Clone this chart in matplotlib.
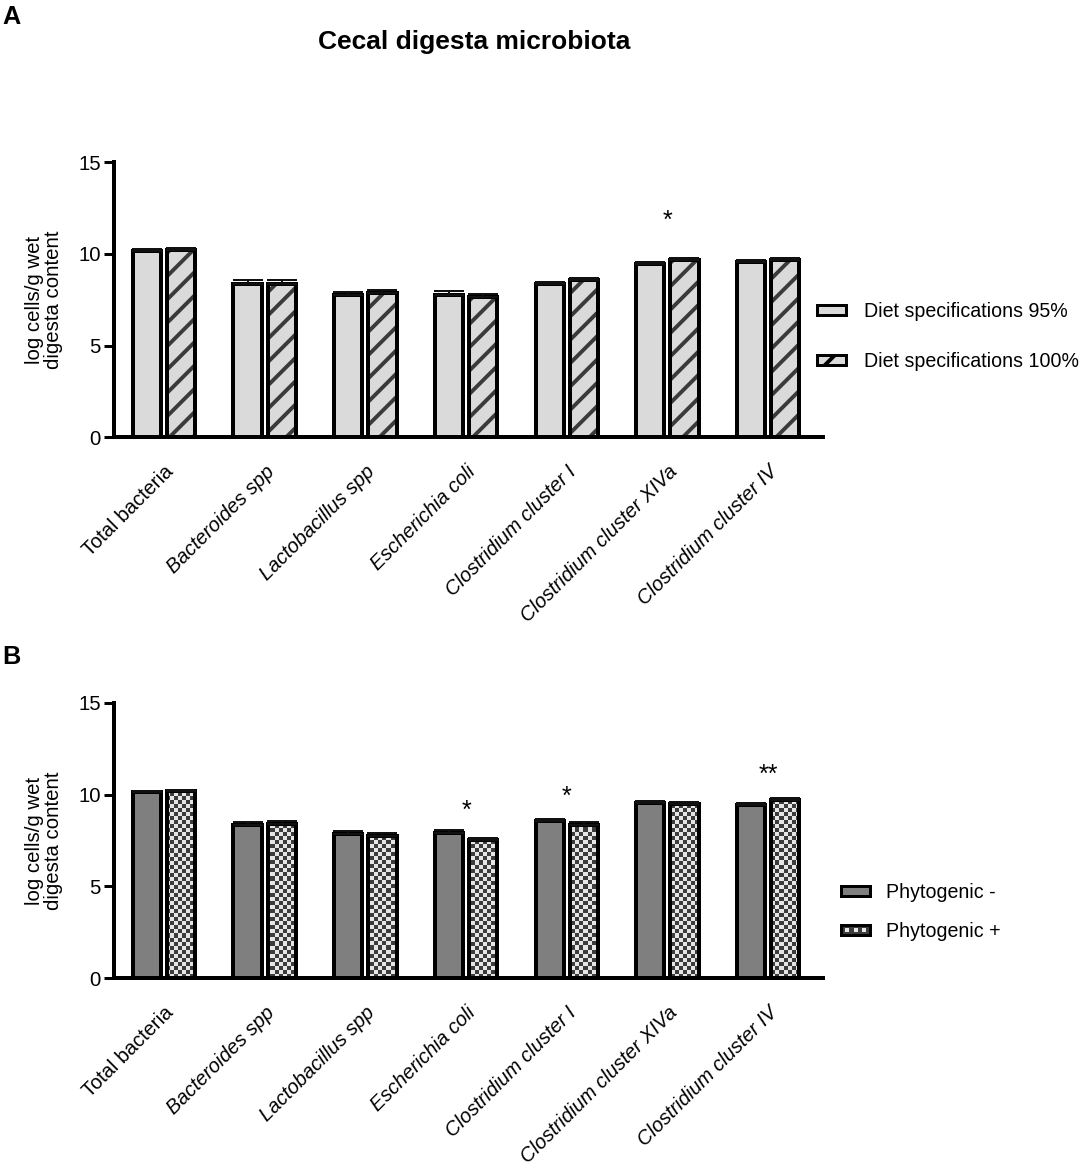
import numpy as np
import matplotlib
matplotlib.use('Agg')
import matplotlib.pyplot as plt
from matplotlib.patches import Patch, Rectangle

plt.rcParams['font.family'] = ['Liberation Sans', 'DejaVu Sans']
plt.rcParams['hatch.linewidth'] = 2.0

DPI = 140
PT = 72.0 / DPI   # one pixel in points

cats = ['Total bacteria', 'Bacteroides spp', 'Lactobacillus spp', 'Escherichia coli',
        'Clostridium cluster I', 'Clostridium cluster XIVa', 'Clostridium cluster IV']
italic = [False, True, True, True, True, True, True]

# panel A : diet specifications
diet95 = [10.15, 8.38, 7.78, 7.78, 8.38, 9.47, 9.56]
diet95_se = [0.10, 0.22, 0.16, 0.18, 0.10, 0.09, 0.10]
diet100 = [10.24, 8.38, 7.87, 7.64, 8.57, 9.66, 9.66]
diet100_se = [0.10, 0.20, 0.16, 0.18, 0.10, 0.10, 0.10]
sig_a_idx = [5]
sig_a_txt = ['*']
sig_a_y = [11.8]

# panel B : phytogenic
phyto_neg = [10.13, 8.33, 7.84, 7.89, 8.55, 9.53, 9.42]
phyto_neg_se = [0.08, 0.16, 0.16, 0.17, 0.10, 0.10, 0.10]
phyto_pos = [10.19, 8.42, 7.75, 7.51, 8.35, 9.48, 9.69]
phyto_pos_se = [0.08, 0.16, 0.14, 0.15, 0.14, 0.10, 0.15]
sig_b_idx = [3, 4, 6]
sig_b_txt = ['*', '*', '**']
sig_b_y = [9.1, 9.9, 11.1]

LIGHT = '#dadada'
DARK = '#7f7f7f'
STRIPE = '#3a3a3a'
CHK_D = '#3c3c3c'
CHK_L = '#e6e6e6'

W = 0.28
OFF = 0.17
EDGE = 4 * PT
XLIM = (-0.5, 6.55)
FS = 10.5
LFS = 10.1

fig = plt.figure(figsize=(1084 / DPI, 1165 / DPI), dpi=DPI)
fig.patch.set_facecolor('white')

axA = fig.add_axes([113.7 / 1084, 1 - 437.3 / 1165, 7.05 * 100.67 / 1084, 275 / 1165])
axB = fig.add_axes([113.7 / 1084, 1 - 978 / 1165, 7.05 * 100.67 / 1084, 275 / 1165])

x = np.arange(len(cats))


def style_axes(ax):
    ax.set_xlim(*XLIM)
    ax.set_ylim(0, 15)
    ax.set_yticks([0, 5, 10, 15])
    for s in ['top', 'right']:
        ax.spines[s].set_visible(False)
    for s in ['left', 'bottom']:
        ax.spines[s].set_linewidth(EDGE)
    ax.tick_params(axis='y', length=10 * PT, width=3 * PT, pad=3 * PT, labelsize=FS)
    ax.tick_params(axis='x', length=0, pad=25 * PT)
    ax.set_xticks(x)
    ax.set_xticklabels(cats, rotation=45, ha='right', va='top', rotation_mode='anchor', fontsize=10.3)
    for lab, it in zip(ax.get_xticklabels(), italic):
        if it:
            lab.set_style('italic')
    ax.set_ylabel('log cells/g wet\ndigesta content', fontsize=FS, linespacing=1.05)
    ax.yaxis.set_label_coords(-50 / 705, 0.5)


def errs(ax, xs, vals, se):
    ax.errorbar(xs, vals, yerr=[np.zeros(len(vals)), se], fmt='none', ecolor='#111111',
                elinewidth=2 * PT, capsize=15 * PT, capthick=2 * PT, zorder=4)


# ---- panel A ----
style_axes(axA)
axA.bar(x - OFF, diet95, W, color=LIGHT, edgecolor='black', linewidth=EDGE, zorder=2)
axA.bar(x + OFF, diet100, W, color=LIGHT, hatch='//', edgecolor=STRIPE, linewidth=0, zorder=2)
axA.bar(x + OFF, diet100, W, fill=False, edgecolor='black', linewidth=EDGE, zorder=3)
errs(axA, x - OFF, diet95, diet95_se)
errs(axA, x + OFF, diet100, diet100_se)
for i, t, yy in zip(sig_a_idx, sig_a_txt, sig_a_y):
    axA.text(x[i], yy, t, ha='center', va='center', fontsize=13)

# ---- panel B ----
style_axes(axB)
axB.bar(x - OFF, phyto_neg, W, color=DARK, edgecolor='black', linewidth=EDGE, zorder=2)
pos_bars = axB.bar(x + OFF, phyto_pos, W, color=CHK_L, edgecolor='black', linewidth=EDGE, zorder=2)
# checkerboard fill, cells of about 4 px
nx = int(7.05 * 100.67 / 4)
ny = int(275 / 4)
jj, ii = np.indices((ny, nx))
board = (ii + jj) % 2
cmap = matplotlib.colors.ListedColormap([CHK_L, CHK_D])
for b in pos_bars:
    im = axB.imshow(board, cmap=cmap, extent=(XLIM[0], XLIM[1], 0, 15), origin='lower',
                    interpolation='nearest', aspect='auto', zorder=2.5)
    im.set_clip_path(b)
axB.bar(x + OFF, phyto_pos, W, fill=False, edgecolor='black', linewidth=EDGE, zorder=3)
axB.set_xlim(*XLIM)
axB.set_ylim(0, 15)
errs(axB, x - OFF, phyto_neg, phyto_neg_se)
errs(axB, x + OFF, phyto_pos, phyto_pos_se)
for i, t, yy in zip(sig_b_idx, sig_b_txt, sig_b_y):
    axB.text(x[i], yy, t, ha='center', va='center', fontsize=13)


class CheckerHandler:
    def legend_artist(self, legend, orig_handle, fontsize, handlebox):
        x0, y0 = -handlebox.xdescent, -handlebox.ydescent
        w, h = handlebox.width, handlebox.height
        tr = handlebox.get_transform()
        bg = Rectangle((x0, y0), w, h, facecolor=CHK_D, edgecolor='black',
                       linewidth=3 * PT, transform=tr)
        handlebox.add_artist(bg)
        n = 7
        for k in range(n):
            if k % 2 == 1:
                handlebox.add_artist(Rectangle((x0 + k * w / n, y0 + h * 0.3), w / n, h * 0.4,
                                               facecolor=CHK_L, edgecolor='none', transform=tr))
        return bg


hA = [Patch(facecolor=LIGHT, edgecolor='black', linewidth=3 * PT),
      Patch(facecolor=LIGHT, edgecolor='black', hatch='//', linewidth=3 * PT)]
fig.legend(hA, ['Diet specifications 95%', 'Diet specifications 100%'],
           loc='center left', bbox_to_anchor=(817 / 1084, 1 - 336.5 / 1165),
           frameon=False, fontsize=LFS, handlelength=1.5, handleheight=0.4,
           handletextpad=0.9, labelspacing=1.6, borderpad=0, borderaxespad=0)

chk = Patch(facecolor=CHK_L)
hB = [Patch(facecolor=DARK, edgecolor='black', linewidth=3 * PT), chk]
fig.legend(hB, ['Phytogenic -', 'Phytogenic +'],
           loc='center left', bbox_to_anchor=(841 / 1084, 1 - 912 / 1165),
           frameon=False, fontsize=LFS, handlelength=1.5, handleheight=0.4,
           handletextpad=0.8, labelspacing=1.0, borderpad=0, borderaxespad=0,
           handler_map={chk: CheckerHandler()})

fig.text(474 / 1084, 1 - 42 / 1165, 'Cecal digesta microbiota', ha='center', va='center',
         fontsize=13.6, fontweight='bold')
fig.text(2 / 1084, 1 - 5 / 1165, 'A', ha='left', va='top', fontsize=13, fontweight='bold')
fig.text(2 / 1084, 1 - 645 / 1165, 'B', ha='left', va='top', fontsize=13, fontweight='bold')

fig.savefig('out.png', dpi=DPI, facecolor='white')
